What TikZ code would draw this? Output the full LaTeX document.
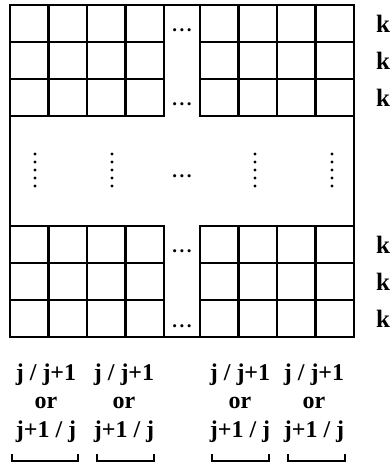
\documentclass[tikz,border=0pt]{standalone}
\usepackage{fontspec}
\setmainfont{Liberation Serif}
\usetikzlibrary{positioning}

\newcommand{\gapdots}{.\hspace{2.6pt}.\hspace{2.6pt}.}

\begin{document}
\begin{tikzpicture}[x=1pt, y=-1pt, line width=2.8pt, line cap=rect,
    klabel/.style={font=\fontsize{25}{28}\selectfont\bfseries, inner sep=0},
    dotsrow/.style={font=\fontsize{19}{21}\selectfont\bfseries, inner sep=0, anchor=base},
    collabel/.style={font=\fontsize{24}{28.5}\selectfont\bfseries, align=center, inner sep=0, anchor=north},
    brace/.style={line width=2pt, line cap=butt}]
    \useasboundingbox (0,0) rectangle (389,474);

    % Frame and the two grid bands
    \draw (10,5) rectangle (354,337);
    \foreach \bx in {10,200} {
        \foreach \i in {0,...,4} {
            \draw (\bx+\i*38.5,5) -- ++(0,111);
            \draw (\bx+\i*38.5,226) -- ++(0,111);
        }
        \foreach \j in {0,...,3} {
            \draw (\bx,5+\j*37) -- ++(154,0);
            \draw (\bx,226+\j*37) -- ++(154,0);
        }
    }

    % Ellipses in the gap
    \node[dotsrow] (gap1) at (182,31) {\gapdots};
    \node[dotsrow] (gap2) at (182,105) {\gapdots};
    \node[dotsrow] (gapm) at (182,177) {\gapdots};
    \node[dotsrow] (gap3) at (182,252) {\gapdots};
    \node[dotsrow] (gap4) at (182,327) {\gapdots};

    % Vertical dots in the middle band
    \foreach \x in {35,112,255,332}
        \foreach \y in {154,162,...,186}
            \fill (\x,\y) circle (1.6);

    % Row labels
    \foreach \y [count=\n] in {23.5,60.5,97.5,244.5,281.5,318.5}
        \node[klabel] (k\n) at (383,\y) {k};

    % Column labels
    \node[collabel] (col1) at (46,362) {j / j+1\\or\\j+1 / j};
    \node[collabel] (col2) at (124,362) {j / j+1\\or\\j+1 / j};
    \node[collabel] (col3) at (240,362) {j / j+1\\or\\j+1 / j};
    \node[collabel] (col4) at (314,362) {j / j+1\\or\\j+1 / j};

    % Brackets
    \draw[brace] (12,454) -- (12,461) -- (78,461) -- (78,454);
    \draw[brace] (97,454) -- (97,461) -- (154,461) -- (154,454);
    \draw[brace] (212,454) -- (212,461) -- (269,461) -- (269,454);
    \draw[brace] (288,454) -- (288,461) -- (345,461) -- (345,454);
\end{tikzpicture}
\end{document}
